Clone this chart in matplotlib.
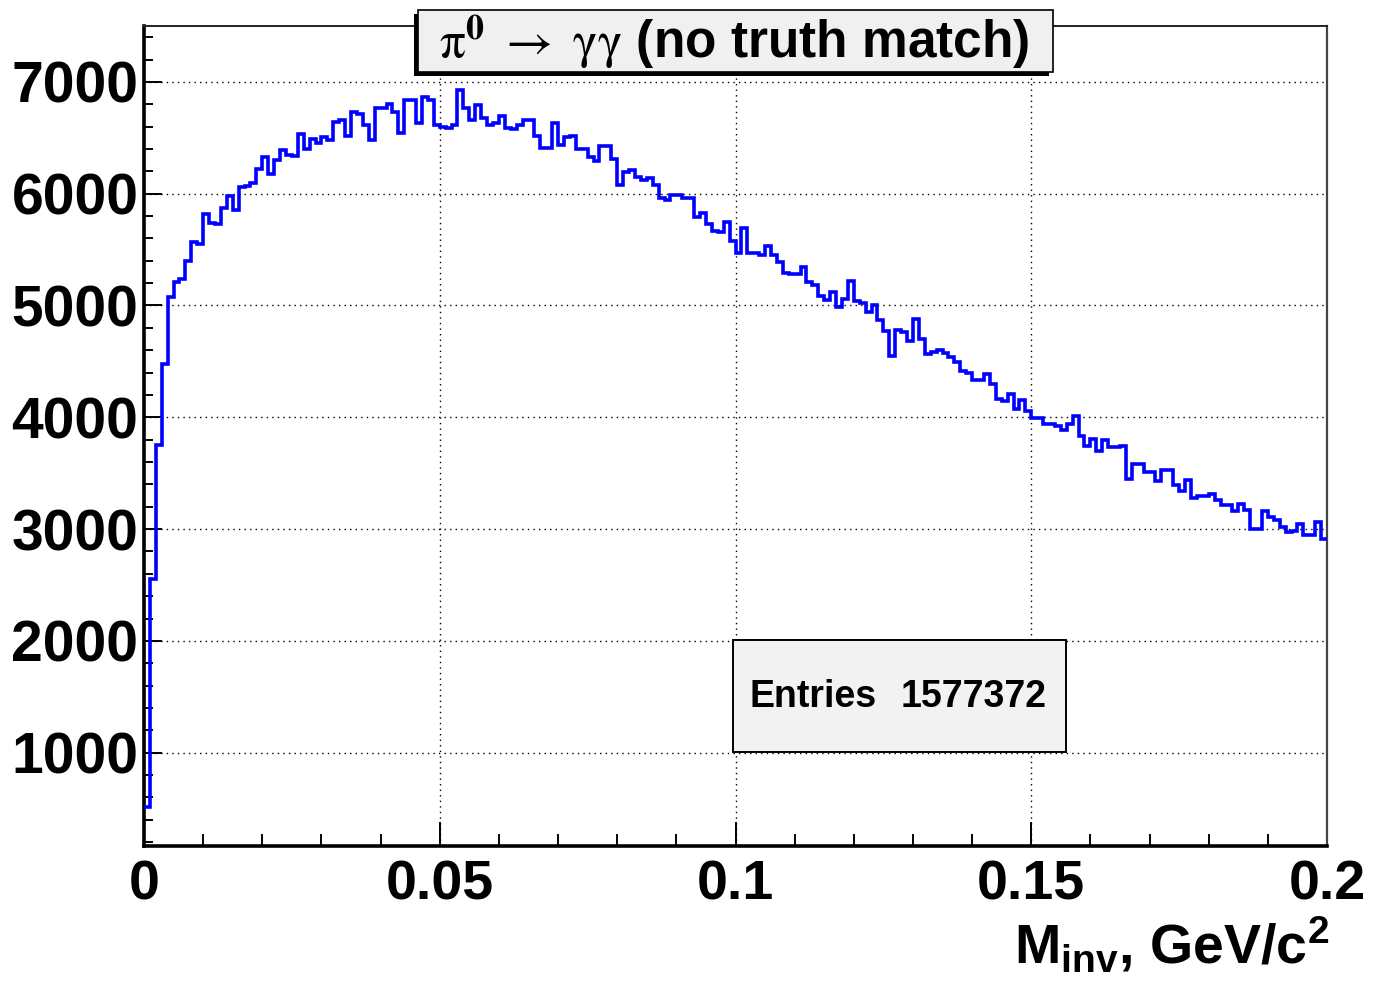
import numpy as np
import matplotlib
matplotlib.use("Agg")
import matplotlib.pyplot as plt
from matplotlib.patches import Rectangle
from matplotlib.ticker import MultipleLocator, FixedLocator, FixedFormatter

# ---- data ----
x_min, x_max, n_bins = 0.0, 0.2, 200
counts = [
    510, 2550, 3750, 4480, 5075, 5210, 5235, 5395, 5570, 5550,
    5820, 5735, 5730, 5870, 5975, 5855, 6060, 6065, 6100, 6225,
    6330, 6180, 6300, 6390, 6345, 6340, 6535, 6400, 6485, 6450,
    6505, 6480, 6640, 6660, 6515, 6730, 6710, 6615, 6480, 6765,
    6765, 6805, 6735, 6540, 6840, 6840, 6635, 6865, 6840, 6610,
    6600, 6590, 6610, 6930, 6765, 6660, 6795, 6675, 6615, 6635,
    6695, 6585, 6575, 6615, 6660, 6660, 6515, 6405, 6410, 6630,
    6435, 6505, 6515, 6400, 6400, 6325, 6290, 6430, 6430, 6310,
    6080, 6190, 6215, 6150, 6120, 6140, 6080, 5960, 5945, 5990,
    5990, 5960, 5960, 5790, 5825, 5730, 5665, 5655, 5745, 5575,
    5470, 5695, 5470, 5470, 5455, 5535, 5450, 5390, 5295, 5280,
    5280, 5340, 5210, 5180, 5085, 5050, 5120, 4990, 5055, 5220,
    5040, 5020, 4945, 5000, 4870, 4775, 4550, 4785, 4765, 4685,
    4880, 4700, 4565, 4585, 4605, 4575, 4540, 4490, 4415, 4395,
    4330, 4330, 4385, 4295, 4165, 4145, 4205, 4075, 4155, 4055,
    3995, 3995, 3940, 3940, 3925, 3885, 3940, 4010, 3835, 3745,
    3805, 3700, 3800, 3730, 3730, 3745, 3450, 3580, 3580, 3510,
    3510, 3430, 3530, 3530, 3395, 3340, 3440, 3275, 3300, 3300,
    3315, 3260, 3215, 3215, 3165, 3225, 3175, 3005, 3005, 3165,
    3105, 3085, 3015, 2970, 2985, 3045, 2945, 2945, 3060, 2915,
]
xtick_vals = [0.0, 0.05, 0.1, 0.15, 0.2]
xtick_labels = ["0", "0.05", "0.1", "0.15", "0.2"]
ytick_vals = [1000, 2000, 3000, 4000, 5000, 6000, 7000]
y_range = (165, 7500)
title_text = r"$\mathrm{\pi}^{\mathbf{0}}\ \rightarrow\ \mathrm{\gamma\gamma}$ (no truth match)"
entries_label = "Entries"
entries_value = "1577372"

# ---- figure ----
W, H = 1381, 981
fig = plt.figure(figsize=(W / 100, H / 100), dpi=100)
plt.rcParams['font.family'] = ['Liberation Sans', 'DejaVu Sans']
plt.rcParams['mathtext.fontset'] = 'custom'
plt.rcParams['mathtext.rm'] = 'Liberation Sans'
plt.rcParams['mathtext.bf'] = 'Liberation Sans:bold'
plt.rcParams['mathtext.it'] = 'Liberation Sans:italic'

def fx(px):
    return px / W

def fy(py):
    return 1 - py / H

L, R, T, B = 144, 1327, 26, 846
ax = fig.add_axes([fx(L), fy(B), fx(R) - fx(L), fy(T) - fy(B)])

edges = np.linspace(x_min, x_max, n_bins + 1)
ax.stairs(counts, edges, baseline=None, color=(0, 0, 1), lw=2.6, zorder=3)

ax.set_xlim(x_min, x_max)
ax.set_ylim(*y_range)

ax.xaxis.set_major_locator(FixedLocator(xtick_vals))
ax.xaxis.set_major_formatter(FixedFormatter(xtick_labels))
ax.xaxis.set_minor_locator(MultipleLocator(0.01))
ax.yaxis.set_major_locator(FixedLocator(ytick_vals))
ax.yaxis.set_minor_locator(MultipleLocator(200))

px2pt = 72 / 100
ax.tick_params(axis='x', which='major', direction='in', length=24 * px2pt,
               width=1.4, pad=10, labelsize=40)
ax.tick_params(axis='x', which='minor', direction='in', length=12 * px2pt, width=1.4)
ax.tick_params(axis='y', which='major', direction='in', length=18 * px2pt,
               width=1.4, pad=4, labelsize=41)
ax.tick_params(axis='y', which='minor', direction='in', length=9 * px2pt, width=1.4)
for lab in ax.get_xticklabels() + ax.get_yticklabels():
    lab.set_fontweight('bold')

ax.grid(True, which='major', color='black', linestyle=(0, (1, 3)), lw=1.0)

ax.spines['left'].set_linewidth(2.6)
ax.spines['bottom'].set_linewidth(2.6)
ax.spines['right'].set_linewidth(1.6)
ax.spines['top'].set_linewidth(1.4)
ax.spines['right'].set_color('#444444')
ax.spines['top'].set_color('#222222')

# x axis label
fig.text(fx(1329), fy(945), r"$\mathbf{M_{inv}}$, GeV/c$^{\mathbf{2}}$",
         ha='right', va='center', fontsize=40, fontweight='bold')

# title box with shadow
fig.add_artist(Rectangle((fx(414), fy(76)), fx(1049) - fx(414), fy(14) - fy(76),
                         transform=fig.transFigure, facecolor='black',
                         edgecolor='black', lw=0, zorder=5))
fig.add_artist(Rectangle((fx(418), fy(72)), fx(1053) - fx(418), fy(10) - fy(72),
                         transform=fig.transFigure, facecolor='#f0f0f0',
                         edgecolor='black', lw=1.2, zorder=6))
fig.text(fx(734), fy(42), title_text, ha='center', va='center',
         fontsize=37, fontweight='bold', math_fontfamily='stix', zorder=7)

# stats box
fig.add_artist(Rectangle((fx(733), fy(752)), fx(1066) - fx(733), fy(640) - fy(752),
                         transform=fig.transFigure, facecolor='#f2f2f2',
                         edgecolor='black', lw=1.4, zorder=5))
fig.text(fx(750), fy(697), entries_label, ha='left', va='center',
         fontsize=27, fontweight='bold', zorder=7)
fig.text(fx(1047), fy(697), entries_value, ha='right', va='center',
         fontsize=27, fontweight='bold', zorder=7)

fig.savefig("out.png", dpi=100)
